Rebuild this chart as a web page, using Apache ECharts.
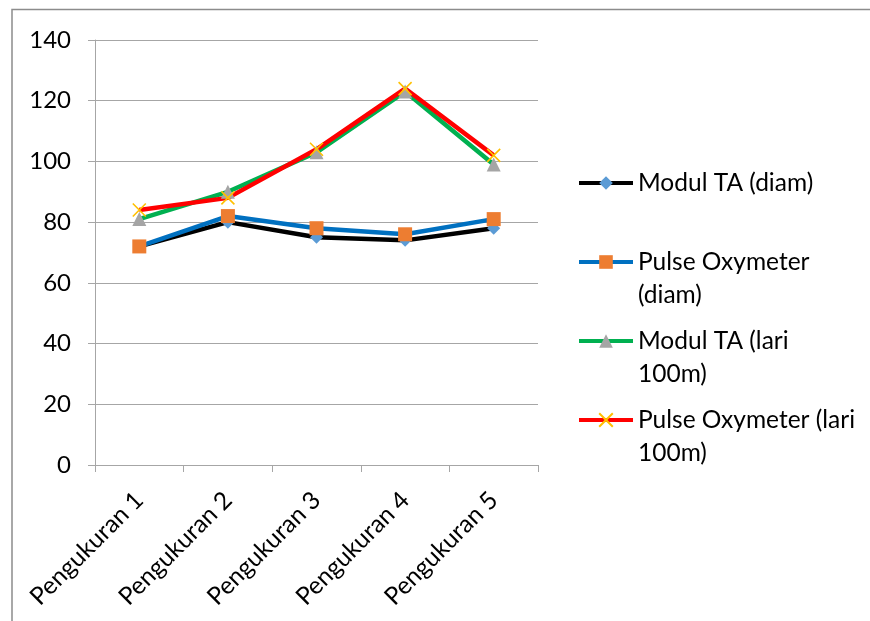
<!DOCTYPE html>
<html>
<head>
<meta charset="utf-8">
<script src="https://cdn.jsdelivr.net/npm/echarts@6/dist/echarts.min.js"></script>
<style>
  html, body { margin: 0; padding: 0; background: #fff; }
  #chart { width: 870px; height: 621px; }
</style>
</head>
<body>
<div id="chart"></div>
<script>
// Measurement labels along the x axis
const categories = ['Pengukuran 1', 'Pengukuran 2', 'Pengukuran 3', 'Pengukuran 4', 'Pengukuran 5'];

// Heart-rate readings (bpm) per measurement
const modulDiam = [72, 80, 75, 74, 78];
const oxyDiam = [72, 82, 78, 76, 81];
const modulLari = [81, 90, 103, 123, 99];
const oxyLari = [84, 88, 104, 124, 102];

// Series names as shown in the legend (wrapped like the legend text)
const seriesNames = [
  'Modul TA (diam)',
  'Pulse Oxymeter\n(diam)',
  'Modul TA (lari\n100m)',
  'Pulse Oxymeter (lari\n100m)'
];

// Value axis range and step
const yMin = 0, yMax = 140, yStep = 20;

const FONT = 'Lato, "Open Sans", "Liberation Sans", sans-serif';
const GRID_GRAY = '#a6a6a6';

const crossPath = 'path://M0,0L10,10M10,0L0,10';

function lineSeries(name, data, lineColor, symbol, symbolColor, size, extra) {
  return Object.assign({
    name: name,
    type: 'line',
    data: data,
    symbol: symbol,
    symbolSize: size,
    showAllSymbol: true,
    lineStyle: { color: lineColor, width: 4.5 },
    itemStyle: { color: symbolColor },
    emphasis: { disabled: true },
    animation: false
  }, extra || {});
}

const series = [
  lineSeries(seriesNames[0], modulDiam, '#000000', 'diamond', '#5b9bd5', 13),
  lineSeries(seriesNames[1], oxyDiam, '#0070c0', 'rect', '#ed7d31', 14),
  lineSeries(seriesNames[2], modulLari, '#00b050', 'triangle', '#a5a5a5', 14),
  lineSeries(seriesNames[3], oxyLari, '#ff0000', crossPath, 'none', 13, {
    itemStyle: { color: 'none', borderColor: '#ffc000', borderWidth: 1.6 }
  })
];

// One legend block per series; wrapped names get a blank leading line so
// the marker lines up with the first line of text
const legendCenters = [183, 262, 341, 420];
const LINE_H = 33;
const legends = seriesNames.map(function (name, i) {
  const twoLine = name.indexOf('\n') >= 0;
  const h = twoLine ? LINE_H * 3 : LINE_H;
  return {
    data: [name],
    orient: 'vertical',
    left: 577,
    top: legendCenters[i] - h / 2,
    padding: 0,
    itemWidth: 54,
    itemHeight: 17,
    itemGap: 0,
    selectedMode: false,
    lineStyle: { width: 4 },
    formatter: function (n) { return twoLine ? '\n' + n : n; },
    textStyle: {
      fontFamily: FONT,
      fontSize: 24.5,
      color: '#000',
      lineHeight: LINE_H
    }
  };
});

const chart = echarts.init(document.getElementById('chart'), null, { renderer: 'canvas' });
chart.setOption({
  backgroundColor: '#ffffff',
  animation: false,
  graphic: [{
    type: 'rect',
    shape: { x: 12, y: 9.5, width: 900, height: 700 },
    style: { fill: 'none', stroke: '#8c8c8c', lineWidth: 1.5 },
    silent: true,
    z: -1
  }],
  grid: { left: 95, right: 332, top: 40, bottom: 156, containLabel: false },
  legend: legends,
  xAxis: {
    type: 'category',
    data: categories,
    boundaryGap: true,
    axisLine: { lineStyle: { color: GRID_GRAY, width: 1 } },
    axisTick: { show: true, length: 7, alignWithLabel: false, lineStyle: { color: GRID_GRAY } },
    axisLabel: {
      rotate: 45,
      interval: 0,
      margin: 31,
      fontFamily: FONT,
      fontSize: 24.5,
      color: '#000'
    },
    splitLine: { show: false }
  },
  yAxis: {
    type: 'value',
    min: yMin,
    max: yMax,
    interval: yStep,
    axisLine: { show: true, lineStyle: { color: GRID_GRAY, width: 1 } },
    axisTick: { show: true, length: 7, lineStyle: { color: GRID_GRAY } },
    axisLabel: {
      margin: 24,
      fontFamily: FONT,
      fontSize: 24,
      color: '#000'
    },
    splitLine: { show: true, lineStyle: { color: GRID_GRAY, width: 1 } }
  },
  series: series
});
</script>
</body>
</html>
